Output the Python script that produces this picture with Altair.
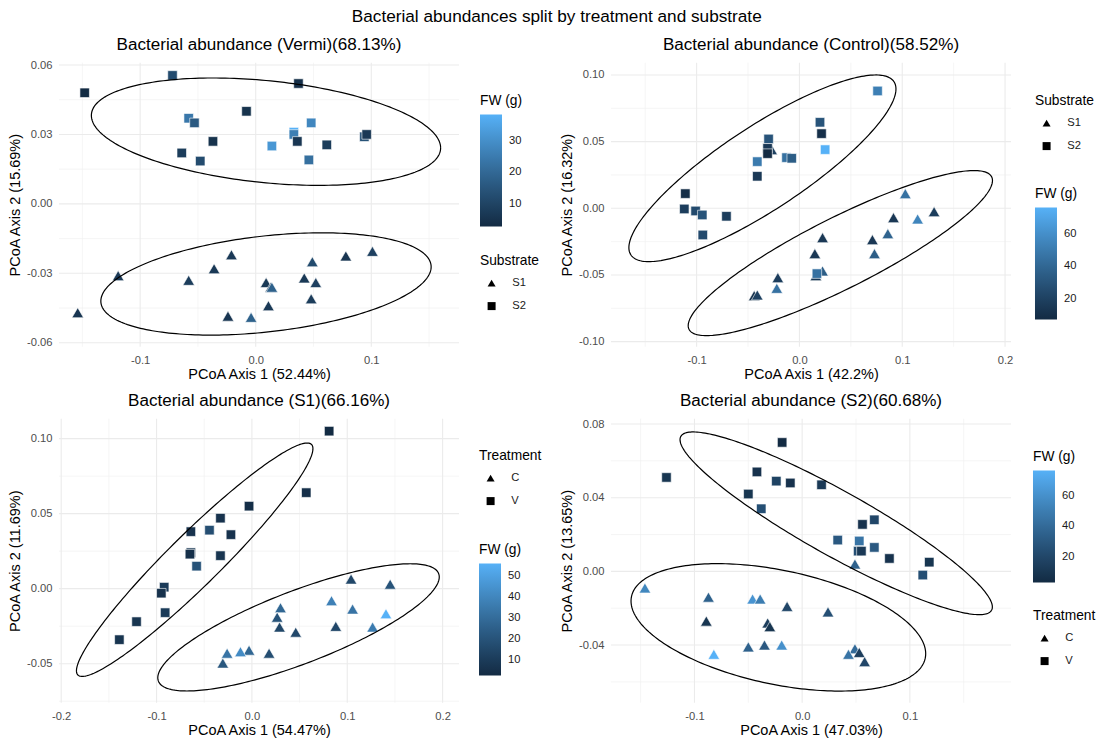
import numpy as np
import pandas as pd
import altair as alt

FONT = "Liberation Sans"
LOW, HIGH = "#132B43", "#56B1F7"

# ---------------- Vermi: substrate S1 (triangles) / S2 (squares) ----------------
VERMI_S1_X = [-0.154, -0.119, -0.058, -0.036, -0.021, -0.024, -0.004, 0.009, 0.013,
              0.014, 0.011, 0.042, 0.049, 0.052, 0.048, 0.078, 0.101]
VERMI_S1_Y = [-0.047, -0.031, -0.033, -0.028, -0.022, -0.0485, -0.049, -0.034, -0.036,
              -0.036, -0.044, -0.032, -0.025, -0.034, -0.041, -0.0225, -0.0205]
VERMI_S1_FW = [6, 7, 8, 7, 7, 6, 18, 7, 9, 18, 7, 7, 12, 9, 8, 6, 9]
VERMI_S2_X = [-0.148, -0.072, 0.037, -0.008, -0.058, -0.053, -0.037, -0.064, -0.048,
              0.014, 0.048, 0.033, 0.033, 0.036, 0.046, 0.0615, 0.094, 0.096]
VERMI_S2_Y = [0.048, 0.0555, 0.052, 0.040, 0.037, 0.035, 0.027, 0.022, 0.0185,
              0.025, 0.035, 0.031, 0.030, 0.027, 0.019, 0.0255, 0.029, 0.030]
VERMI_S2_FW = [2.7, 12, 4, 5, 24, 16, 5, 8, 12, 32, 28, 38.4, 26, 6, 22, 8, 14, 7]
VERMI_ELLIPSES = [[0.0089, 0.0312, 0.1511, -0.0070, 0.0232],
                  [0.0089, -0.0346, 0.1429, 0.0074, 0.0221]]

# ---------------- Control: substrate S1 (triangles) / S2 (squares) ----------------
CONTROL_S1_X = [-0.027, -0.044, -0.041, -0.021, -0.022, 0.015, 0.0225, 0.016, 0.0225,
                0.071, 0.073, 0.086, 0.0915, 0.103, 0.115, 0.131]
CONTROL_S1_Y = [0.044, -0.0655, -0.065, -0.052, -0.060, -0.034, -0.022, -0.0505, -0.047,
                -0.0235, -0.034, -0.019, -0.007, 0.011, -0.008, -0.0025]
CONTROL_S1_FW = [20, 12, 20, 18, 45, 15, 15, 15, 35, 15, 35, 38, 15, 45, 55, 18]
CONTROL_S2_X = [0.076, 0.020, 0.0215, 0.025, -0.030, -0.031, -0.031, -0.041, -0.041,
                -0.0126, -0.0075, -0.111, -0.112, -0.101, -0.0945, -0.071, -0.094, 0.017]
CONTROL_S2_Y = [0.088, 0.0645, 0.056, 0.044, 0.052, 0.045, 0.041, 0.035, 0.024,
                0.038, 0.0375, 0.011, -0.0005, -0.002, -0.005, -0.006, -0.020, -0.049]
CONTROL_S2_FW = [52, 30, 10, 76, 30, 15, 7.4, 50, 15, 45, 35, 9, 18, 25, 30, 18, 25, 45]
CONTROL_ELLIPSES = [[-0.036, 0.030, 0.1299, 0.0595, 0.070],
                    [0.0398, -0.0336, 0.148, 0.0544, 0.0619]]

# ---------------- Substrate S1: treatment C (triangles) / V (squares) ----------------
S1_C_X = [0.104, 0.145, 0.0835, 0.1056, 0.1406, 0.1266, 0.088, 0.030, 0.0265,
          0.029, 0.046, 0.018, -0.003, -0.012, -0.026, -0.0305]
S1_C_Y = [0.0064, 0.003, -0.008, -0.0136, -0.0167, -0.0256, -0.0251, -0.0127, -0.019,
          -0.0256, -0.029, -0.043, -0.041, -0.042, -0.043, -0.0496]
S1_C_FW = [15, 20, 38, 33, 56, 36, 15, 28, 20, 15, 15, 18, 28, 42, 33, 22]
S1_V_X = [0.081, 0.057, -0.003, -0.033, -0.064, -0.0445, -0.022, -0.064, -0.065,
          -0.058, -0.033, -0.092, -0.095, -0.091, -0.121, -0.139]
S1_V_Y = [0.105, 0.064, 0.055, 0.047, 0.038, 0.039, 0.036, 0.024, 0.023,
          0.015, 0.022, 0.001, -0.003, -0.016, -0.022, -0.034]
S1_V_FW = [2.7, 5, 4, 6, 6, 18, 6, 8, 5, 20, 7, 10, 6, 10, 7, 7]
S1_ELLIPSES = [[-0.060, 0.0193, 0.124, 0.074, 0.0778],
               [0.0489, -0.0258, 0.1476, 0.0336, 0.0424]]

# ---------------- Substrate S2: treatment C (triangles) / V (squares) ----------------
S2_C_X = [0.049, -0.146, -0.087, -0.046, -0.039, -0.014, 0.024, -0.089, -0.032,
          -0.030, -0.050, -0.035, -0.019, -0.082, 0.049, 0.043, 0.053, 0.058]
S2_C_Y = [0.004, -0.009, -0.014, -0.015, -0.015, -0.019, -0.022, -0.027, -0.028,
          -0.030, -0.041, -0.040, -0.040, -0.045, -0.042, -0.045, -0.044, -0.049]
S2_C_FW = [35, 55, 35, 62, 50, 20, 25, 10, 15, 10, 35, 30, 60, 76.3, 40, 45, 15, 20]
S2_V_X = [-0.126, -0.0186, -0.042, -0.024, -0.011, 0.018, -0.050, -0.038, 0.067,
          0.056, 0.033, 0.053, 0.052, 0.055, 0.067, 0.081, 0.118, 0.112]
S2_V_Y = [0.051, 0.070, 0.054, 0.049, 0.048, 0.047, 0.042, 0.034, 0.028,
          0.0255, 0.017, 0.0165, 0.011, 0.011, 0.013, 0.007, 0.005, -0.002]
S2_V_FW = [10, 3.5, 8, 18, 8, 12, 10, 25, 20, 8, 30, 45, 25, 12, 30, 8, 10, 25]
S2_ELLIPSES = [[0.0316, 0.0261, 0.145, -0.0454, 0.0496],
               [-0.0221, -0.0304, 0.1368, -0.0143, 0.0346]]

MINOR_X = [-0.15, -0.05, 0.05, 0.15]

PANEL_W, PANEL_H = 400, 284
FIX_MINUS = "replace(datum.label, '\u2212', '-')"


def ellipse_path(params, label):
    """Outline of an ellipse given centre, half-width, y-offset of its
    rightmost point and half-height (all in data units)."""
    cx, cy, rx, ry, hy = params
    t = np.linspace(0, 2 * np.pi, 241)
    h = np.sqrt(hy ** 2 - ry ** 2)
    return pd.DataFrame({"x": cx + rx * np.cos(t),
                         "y": cy + ry * np.cos(t) + h * np.sin(t),
                         "i": np.arange(len(t)), "e": label})


def panel(title, xtitle, ytitle, groups, shape_title, g1, g2, ellipses,
          xdom, ydom, xmaj, ymaj, ymin, fw_ticks, color_pos, shape_pos, title_offset):
    ell = pd.concat([ellipse_path(p, f"e{k}") for k, p in enumerate(ellipses)],
                    ignore_index=True)

    xs = alt.Scale(domain=xdom, nice=False, zero=False)
    ys = alt.Scale(domain=ydom, nice=False, zero=False)
    xaxis = alt.Axis(title=xtitle, values=xmaj, format=".1f", labelExpr=FIX_MINUS,
                     labelPadding=8, titlePadding=2)
    yaxis = alt.Axis(title=ytitle, values=ymaj, format=".2f", labelExpr=FIX_MINUS,
                     labelPadding=7, titlePadding=4)

    def X(field):
        return alt.X(field, scale=xs, axis=xaxis)

    def Y(field):
        return alt.Y(field, scale=ys, axis=yaxis)

    gx_minor = alt.Chart(pd.DataFrame({"x": MINOR_X})).mark_rule(
        color="#F0F0F0", strokeWidth=0.7).encode(x=X("x:Q"))
    gy_minor = alt.Chart(pd.DataFrame({"y": ymin})).mark_rule(
        color="#F0F0F0", strokeWidth=0.7).encode(y=Y("y:Q"))
    gx_major = alt.Chart(pd.DataFrame({"x": xmaj})).mark_rule(
        color="#EBEBEB", strokeWidth=1.1).encode(x=X("x:Q"))
    gy_major = alt.Chart(pd.DataFrame({"y": ymaj})).mark_rule(
        color="#EBEBEB", strokeWidth=1.1).encode(y=Y("y:Q"))

    color = alt.Color("fw:Q", scale=alt.Scale(range=[LOW, HIGH], interpolate="lab"),
                      legend=alt.Legend(
                          title="FW (g)", orient="none", direction="vertical",
                          legendX=color_pos[0], legendY=color_pos[1],
                          values=fw_ticks, format="d", gradientLength=112,
                          gradientThickness=22, gradientStrokeWidth=0,
                          labelOffset=7, titlePadding=7))
    shape = alt.Shape("grp:N", scale=alt.Scale(domain=groups,
                                               range=["triangle-up", "square"]),
                      legend=alt.Legend(
                          title=shape_title, orient="none",
                          legendX=shape_pos[0], legendY=shape_pos[1],
                          symbolSize=64, symbolFillColor="black",
                          symbolStrokeWidth=0, symbolOffset=6,
                          labelOffset=15, rowPadding=11, titlePadding=10))

    def pts_layer(g, name, size):
        df = pd.DataFrame({"x": g[0], "y": g[1], "fw": g[2], "grp": name})
        return alt.Chart(df).mark_point(
            filled=True, opacity=1, size=size, stroke="white", strokeWidth=0.6
        ).encode(x=X("x:Q"), y=Y("y:Q"), color=color, shape=shape)

    tri = pts_layer(g1, groups[0], 135)
    sq = pts_layer(g2, groups[1], 90)
    outline = alt.Chart(ell).mark_line(color="black", strokeWidth=1.2).encode(
        x=X("x:Q"), y=Y("y:Q"), order="i:Q", detail="e:N",
    )
    return alt.layer(gx_minor, gy_minor, gx_major, gy_major, tri, sq, outline).properties(
        width=PANEL_W, height=PANEL_H,
        title=alt.TitleParams(title, baseline="alphabetic", offset=title_offset))


p_vermi = panel("Bacterial abundance (Vermi)(68.13%)", "PCoA Axis 1 (52.44%)",
                "PCoA Axis 2 (15.69%)", ["S1", "S2"], "Substrate",
                (VERMI_S1_X, VERMI_S1_Y, VERMI_S1_FW), (VERMI_S2_X, VERMI_S2_Y, VERMI_S2_FW),
                VERMI_ELLIPSES, [-0.1702, 0.1759], [-0.0617, 0.061],
                [-0.1, 0.0, 0.1], [-0.06, -0.03, 0.0, 0.03, 0.06],
                [-0.045, -0.015, 0.015, 0.045], [10, 20, 30], (421, 31), (421, 191), -7.7)

p_control = panel("Bacterial abundance (Control)(58.52%)", "PCoA Axis 1 (42.2%)",
                  "PCoA Axis 2 (16.32%)", ["S1", "S2"], "Substrate",
                  (CONTROL_S1_X, CONTROL_S1_Y, CONTROL_S1_FW),
                  (CONTROL_S2_X, CONTROL_S2_Y, CONTROL_S2_FW),
                  CONTROL_ELLIPSES, [-0.1833, 0.2058], [-0.1038, 0.1092],
                  [-0.1, 0.0, 0.1, 0.2], [-0.1, -0.05, 0.0, 0.05, 0.1],
                  [-0.075, -0.025, 0.025, 0.075], [20, 40, 60], (424, 124), (424, 31), -4.7)

p_s1 = panel("Bacterial abundance (S1)(66.16%)", "PCoA Axis 1 (54.47%)",
             "PCoA Axis 2 (11.69%)", ["C", "V"], "Treatment",
             (S1_C_X, S1_C_Y, S1_C_FW), (S1_V_X, S1_V_Y, S1_V_FW),
             S1_ELLIPSES, [-0.2023, 0.2172], [-0.076, 0.1133],
             [-0.2, -0.1, 0.0, 0.1, 0.2], [-0.05, 0.0, 0.05, 0.1],
             [-0.075, -0.025, 0.025, 0.075], [10, 20, 30, 40, 50], (420, 124), (420, 30), -4.7)

p_s2 = panel("Bacterial abundance (S2)(60.68%)", "PCoA Axis 1 (47.03%)",
             "PCoA Axis 2 (13.65%)", ["C", "V"], "Treatment",
             (S2_C_X, S2_C_Y, S2_C_FW), (S2_V_X, S2_V_Y, S2_V_FW),
             S2_ELLIPSES, [-0.1775, 0.1939], [-0.0713, 0.0829],
             [-0.1, 0.0, 0.1], [-0.04, 0.0, 0.04, 0.08],
             [-0.06, -0.02, 0.02, 0.06], [20, 40, 60], (422, 31), (422, 190), -4.9)

chart = alt.concat(
    p_vermi, p_control, p_s1, p_s2, columns=2,
    spacing={"row": 72, "column": 152}, bounds="flush",
    title=alt.TitleParams("Bacterial abundances split by treatment and substrate",
                          anchor="middle", offset=10, dx=5, fontSize=17.2),
).resolve_scale(
    color="independent", shape="independent"
).resolve_legend(
    color="independent", shape="independent"
).properties(
    padding={"left": 7, "top": 7.7, "right": 0, "bottom": 0},
).configure_view(
    strokeWidth=0
).configure_axis(
    labelFont=FONT, titleFont=FONT, labelFontSize=11.2, titleFontSize=14.5,
    labelColor="#4D4D4D", titleColor="black", titleFontWeight="normal",
    ticks=False, tickSize=0, domain=False, grid=False,
).configure_legend(
    titleFont=FONT, labelFont=FONT, titleFontSize=13.8, labelFontSize=11.2,
    titleColor="black", labelColor="#1A1A1A", titleFontWeight="normal", padding=0,
).configure_title(
    font=FONT, fontSize=17.1, fontWeight="normal", color="black", anchor="middle",
)

chart.save("out.html", embed_options={"renderer": "svg", "actions": False})
